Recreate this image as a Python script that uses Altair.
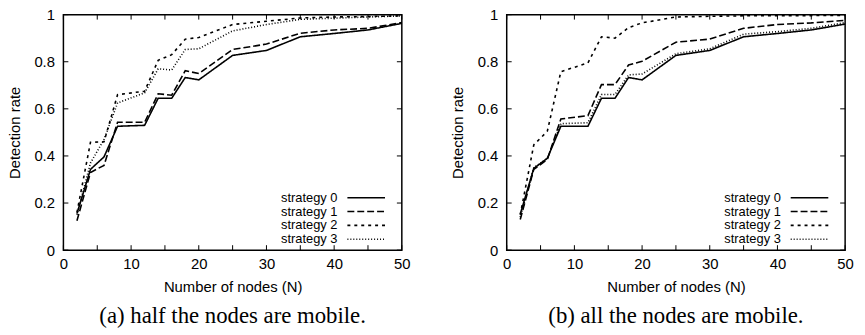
import altair as alt
import pandas as pd

# ---- data ----
x_vals = [2, 4, 6, 8, 12, 14, 16, 18, 20, 25, 30, 35, 40, 45, 50]
strategies = ["strategy 0", "strategy 1", "strategy 2", "strategy 3"]

# (a) half the nodes are mobile
half_s0 = [0.155, 0.343, 0.396, 0.526, 0.530, 0.645, 0.645, 0.733, 0.723, 0.827, 0.848, 0.906, 0.920, 0.935, 0.963]
half_s1 = [0.125, 0.330, 0.360, 0.543, 0.543, 0.664, 0.658, 0.762, 0.750, 0.852, 0.875, 0.921, 0.935, 0.942, 0.966]
half_s2 = [0.160, 0.458, 0.460, 0.660, 0.675, 0.806, 0.830, 0.896, 0.903, 0.958, 0.972, 0.986, 0.990, 0.992, 0.995]
half_s3 = [0.150, 0.370, 0.470, 0.625, 0.668, 0.770, 0.765, 0.852, 0.855, 0.931, 0.958, 0.980, 0.985, 0.990, 0.995]

# (b) all the nodes are mobile
all_s0 = [0.153, 0.347, 0.390, 0.526, 0.526, 0.645, 0.645, 0.733, 0.723, 0.827, 0.848, 0.906, 0.920, 0.935, 0.960]
all_s1 = [0.130, 0.343, 0.385, 0.557, 0.571, 0.703, 0.703, 0.786, 0.802, 0.883, 0.896, 0.942, 0.958, 0.965, 0.976]
all_s2 = [0.150, 0.447, 0.505, 0.758, 0.795, 0.906, 0.900, 0.945, 0.965, 0.990, 0.993, 0.995, 0.995, 0.996, 0.997]
all_s3 = [0.140, 0.350, 0.390, 0.537, 0.541, 0.661, 0.661, 0.744, 0.748, 0.834, 0.855, 0.917, 0.928, 0.942, 0.966]

x_ticks = [0, 5, 10, 15, 20, 25, 30, 35, 40, 45, 50]
y_ticks = [0, 0.2, 0.4, 0.6, 0.8, 1.0]

captions = ["(a) half the nodes are mobile.", "(b) all the nodes are mobile."]
x_title = "Number of nodes (N)"
y_title = "Detection rate"

# ---- styling ----
W, H = 342, 238
SANS = "Liberation Sans"
FS = 15
LFS = 13
dashes = [[1, 0], [7, 3], [3, 4], [1, 2]]
TICK = 5

x_scale = alt.Scale(domain=[0, 50], nice=False, zero=False)
y_scale = alt.Scale(domain=[0, 1], nice=False, zero=False)


def panel(series, caption):
    rows = []
    for name, vals in zip(strategies, series):
        for xv, yv in zip(x_vals, vals):
            rows.append({"x": xv, "y": yv, "strategy": name})
    df = pd.DataFrame(rows)

    lines = alt.Chart(df).mark_line(color="black", strokeWidth=1.6).encode(
        x=alt.X("x:Q", scale=x_scale,
                axis=alt.Axis(values=x_ticks, title=x_title, ticks=False, domain=False,
                              grid=False, labelFont=SANS, labelFontSize=FS, labelColor="black",
                              titleFont=SANS, titleFontSize=FS, titleFontWeight="normal",
                              titleColor="black", labelPadding=7, titlePadding=8,
                              labelFlush=False, labelOverlap=False, format="~g")),
        y=alt.Y("y:Q", scale=y_scale,
                axis=alt.Axis(values=y_ticks, title=y_title, ticks=False, domain=False,
                              grid=False, labelFont=SANS, labelFontSize=FS, labelColor="black",
                              titleFont=SANS, titleFontSize=FS, titleFontWeight="normal",
                              titleColor="black", labelPadding=9, titlePadding=12,
                              labelFlush=False, labelOverlap=False, format="~g")),
        strokeDash=alt.StrokeDash("strategy:N", scale=alt.Scale(domain=strategies, range=dashes),
                                  legend=None),
        detail="strategy:N",
    )

    xt = pd.DataFrame({"t": x_ticks})
    yt = pd.DataFrame({"t": y_ticks})
    tick_style = dict(color="black", strokeWidth=1)
    xb = alt.Chart(xt).mark_rule(**tick_style).encode(
        x=alt.X("t:Q", scale=x_scale), y=alt.value(H), y2=alt.value(H - TICK))
    xtop = alt.Chart(xt).mark_rule(**tick_style).encode(
        x=alt.X("t:Q", scale=x_scale), y=alt.value(0), y2=alt.value(TICK))
    yl = alt.Chart(yt).mark_rule(**tick_style).encode(
        y=alt.Y("t:Q", scale=y_scale), x=alt.value(0), x2=alt.value(TICK))
    yr = alt.Chart(yt).mark_rule(**tick_style).encode(
        y=alt.Y("t:Q", scale=y_scale), x=alt.value(W), x2=alt.value(W - TICK))

    layers = [lines, xb, xtop, yl, yr]

    # legend (inside, bottom right)
    offsets = [53, 39, 25, 11]
    for name, dash, off in zip(strategies, dashes, offsets):
        ldf = pd.DataFrame({"label": [name]})
        layers.append(alt.Chart(ldf).mark_text(
            align="right", baseline="middle", font=SANS, fontSize=LFS, color="black").encode(
            text="label:N", x=alt.value(277), y=alt.value(H - off)))
        layers.append(alt.Chart(ldf).mark_rule(color="black", strokeWidth=1.6, strokeDash=dash).encode(
            x=alt.value(287), x2=alt.value(325), y=alt.value(H - off)))

    return alt.layer(*layers).properties(
        width=W, height=H,
        title=alt.TitleParams(caption, orient="bottom", anchor="middle", font="Liberation Serif",
                              fontSize=23, fontWeight="normal", color="black", offset=11),
    )


left = panel([half_s0, half_s1, half_s2, half_s3], captions[0])
right = panel([all_s0, all_s1, all_s2, all_s3], captions[1])

chart = alt.hconcat(left, right, spacing=106, bounds="flush").properties(
    padding={"left": -2, "top": -3, "right": 2, "bottom": 0}
).configure_view(stroke="black", strokeWidth=1.5)

chart.save("out.html", embed_options={"renderer": "svg", "actions": False})
